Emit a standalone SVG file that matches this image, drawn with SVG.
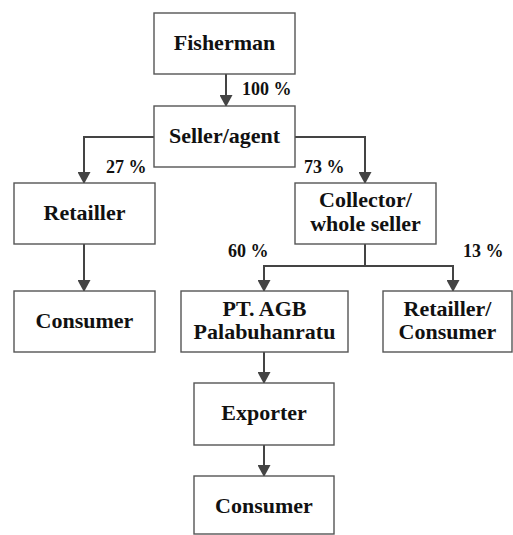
<svg xmlns="http://www.w3.org/2000/svg" width="513" height="535" viewBox="0 0 513 535">
<style>
.box{fill:#fff;stroke:#555;stroke-width:1.4}
.t{font-weight:bold;font-size:22px;fill:#111;text-anchor:middle}
.p{font-weight:bold;font-size:18px;fill:#111}
.c{fill:none;stroke:#444;stroke-width:2;marker-end:url(#ah)}
.c2{fill:none;stroke:#444;stroke-width:2}
</style>
<defs>
<marker id="ah" markerWidth="12" markerHeight="13" refX="11" refY="6.5" orient="auto" markerUnits="userSpaceOnUse">
<path d="M0,0 L12,6.5 L0,13 Z" fill="#444"/>
</marker>
</defs>
<rect width="513" height="535" fill="#fff"/>
<g font-family="'Liberation Serif', 'Times New Roman', 'DejaVu Serif', serif">
<g id="connectors">
<path class="c" d="M226,74 V106"/>
<path class="c" d="M154,137 H84 V183"/>
<path class="c" d="M295,137 H365 V183"/>
<path class="c" d="M84,244 V291"/>
<path class="c2" d="M365,244 V266"/>
<path class="c" d="M365,266 H264 V291"/>
<path class="c" d="M365,266 H453 V291"/>
<path class="c" d="M264,352 V383"/>
<path class="c" d="M264,445 V476"/>
<text class="p" x="242" y="95">100 %</text>
<text class="p" x="106" y="173">27 %</text>
<text class="p" x="304" y="173">73 %</text>
<text class="p" x="228" y="257">60 %</text>
<text class="p" x="463" y="257">13 %</text>
</g>
<g id="fisherman"><rect class="box" x="154" y="13" width="141" height="61"/><text class="t" x="224.5" y="50">Fisherman</text></g>
<g id="seller"><rect class="box" x="154" y="106" width="141" height="61"/><text class="t" x="224.5" y="143">Seller/agent</text></g>
<g id="retailler"><rect class="box" x="14" y="183" width="141" height="61"/><text class="t" x="84.5" y="220">Retailler</text></g>
<g id="collector"><rect class="box" x="295" y="183" width="141" height="61"/><text class="t" x="365.5" y="207">Collector/</text><text class="t" x="365.5" y="231">whole seller</text></g>
<g id="consumer1"><rect class="box" x="14" y="291" width="141" height="61"/><text class="t" x="84.5" y="328">Consumer</text></g>
<g id="ptagb"><rect class="box" x="181" y="291" width="167" height="61"/><text class="t" x="264.5" y="316">PT. AGB</text><text class="t" x="264.5" y="339">Palabuhanratu</text></g>
<g id="retailler-consumer"><rect class="box" x="383" y="291" width="129" height="61"/><text class="t" x="447.5" y="316">Retailler/</text><text class="t" x="447.5" y="339">Consumer</text></g>
<g id="exporter"><rect class="box" x="194" y="383" width="140" height="62"/><text class="t" x="264" y="420">Exporter</text></g>
<g id="consumer2"><rect class="box" x="194" y="476" width="140" height="58"/><text class="t" x="264" y="513">Consumer</text></g>
</g>
</svg>
